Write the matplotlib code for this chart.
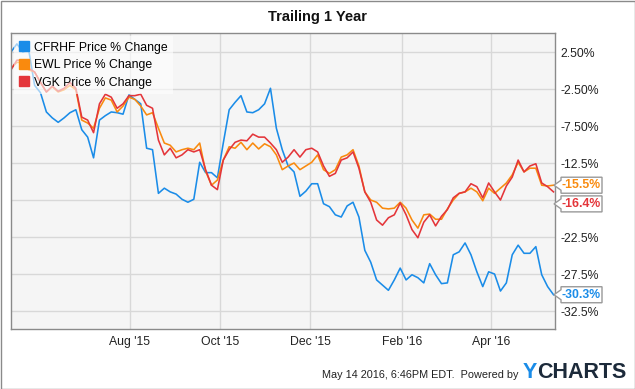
import matplotlib
matplotlib.use("Agg")
import matplotlib.pyplot as plt
import matplotlib.dates as mdates
import pandas as pd
from matplotlib.lines import Line2D
from matplotlib.patches import Polygon, Rectangle
from matplotlib.transforms import IdentityTransform

plt.rcParams['font.family'] = ['Liberation Sans', 'DejaVu Sans']

# sampling dates (one reading about every 4 days)
dates = pd.date_range('2015-05-13', '2016-05-13', periods=93)

cfrhf = [2.5, 3.6, 2.5, 2.8, -2.0, -3.0, -5.6, -6.4, -7.0, -6.4,
         -5.7, -5.3, -8.0, -9.0, -11.8, -6.7, -6.1, -5.6, -5.7, -5.9,
         -3.3, -3.9, -4.5, -10.5, -10.7, -16.6, -15.9, -16.4, -16.7, -17.4,
         -17.8, -17.4, -12.4, -13.8, -13.8, -14.5, -9.8, -5.3, -4.3, -3.4,
         -5.6, -5.7, -5.3, -4.5, -2.4, -7.8, -10.7, -12.9, -13.7, -17.0,
         -16.3, -15.3, -15.3, -18.0, -18.4, -19.5, -19.8, -18.3, -17.8, -19.8,
         -24.3, -25.9, -28.3, -29.0, -29.7, -28.3, -26.7, -28.3, -27.6, -28.0,
         -28.7, -26.1, -27.6, -28.8, -28.7, -24.9, -24.5, -23.3, -24.9, -27.2,
         -29.2, -27.2, -27.5, -29.8, -28.7, -24.9, -23.6, -24.7, -24.7, -23.8,
         -27.6, -29.2, -30.3]

ewl = [0.3, 1.1, 1.1, 0.1, -0.2, -1.6, -2.9, -2.2, -2.9, -2.6,
       -2.0, -2.6, -6.7, -7.1, -7.8, -5.1, -3.7, -4.0, -5.6, -4.8,
       -3.6, -3.9, -4.8, -6.0, -5.7, -7.8, -9.8, -10.1, -11.0, -10.7,
       -10.5, -10.7, -9.8, -13.6, -15.5, -14.8, -12.1, -10.3, -10.5, -9.7,
       -10.7, -9.8, -10.6, -9.9, -10.3, -11.4, -13.4, -12.9, -12.5, -13.4,
       -12.9, -12.4, -11.4, -13.4, -13.9, -13.4, -11.7, -11.4, -10.7, -12.9,
       -16.4, -17.5, -17.8, -18.6, -18.7, -18.6, -17.8, -18.6, -20.2, -21.3,
       -19.5, -19.4, -20.1, -20.1, -18.7, -17.5, -16.6, -16.4, -15.9, -16.4,
       -17.6, -15.9, -16.6, -15.9, -15.2, -14.1, -12.4, -13.7, -13.2, -13.2,
       -15.5, -15.6, -15.5]

vgk = [0.1, 1.4, 1.4, 0.3, -0.2, -1.6, -2.9, -2.1, -2.8, -2.4,
       -1.6, -2.4, -6.3, -6.7, -8.4, -4.5, -3.2, -3.6, -5.1, -4.5,
       -3.4, -3.4, -3.2, -4.7, -5.1, -9.4, -11.4, -10.5, -11.8, -11.4,
       -10.7, -11.0, -10.7, -13.4, -15.5, -16.1, -12.1, -10.7, -9.7, -9.4,
       -9.5, -8.6, -9.0, -9.0, -9.8, -10.7, -12.4, -11.7, -10.7, -11.7,
       -10.7, -10.5, -11.0, -12.9, -14.3, -13.9, -12.1, -11.8, -11.0, -13.2,
       -16.4, -17.8, -20.2, -20.9, -19.9, -19.5, -17.9, -19.5, -21.5, -22.6,
       -20.5, -19.5, -21.0, -19.7, -18.8, -17.2, -16.6, -16.4, -15.3, -15.7,
       -17.2, -15.2, -16.4, -17.5, -15.6, -14.4, -12.1, -13.7, -12.9, -12.6,
       -15.2, -15.7, -16.4]

names = ['CFRHF Price % Change', 'EWL Price % Change', 'VGK Price % Change']
colors = ['#1a8ce8', '#f98a0e', '#e4353a']

# -17.5% sits behind the end-value flags in the original, so its label is blank
y_ticks = [2.5, -2.5, -7.5, -12.5, -17.5, -22.5, -27.5, -32.5]
y_labels = ['2.50%', '-2.50%', '-7.50%', '-12.5%', '', '-22.5%', '-27.5%', '-32.5%']
x_ticks = ['2015-08-01', '2015-10-01', '2015-12-01', '2016-02-01', '2016-04-01']
x_labels = ["Aug '15", "Oct '15", "Dec '15", "Feb '16", "Apr '16"]

W, H = 635, 389
fig = plt.figure(figsize=(W / 100, H / 100), dpi=100)
ax = fig.add_axes([11 / W, 1 - 329 / H, 544 / W, 296 / H])
ax.set_facecolor('#f5f5f5')

for vals, col in zip([cfrhf, ewl, vgk], colors):
    ax.plot(dates, vals, color=col, lw=1.15, solid_joinstyle='round')

ax.set_xlim(pd.Timestamp('2015-05-13'), pd.Timestamp('2016-05-14'))
ax.set_ylim(-34.93, 5.07)
ax.set_yticks(y_ticks)
ax.set_yticklabels(y_labels)
ax.set_xticks(pd.to_datetime(x_ticks))
ax.set_xticklabels(x_labels)
ax.yaxis.tick_right()
ax.tick_params(length=0, labelsize=8.8, colors='#222222')
ax.tick_params(axis='y', pad=4)
ax.tick_params(axis='x', pad=5)
ax.grid(True, color='#d8d8d8', lw=1)
ax.set_axisbelow(True)
for s in ax.spines.values():
    s.set_color('#8a8a8a')
    s.set_linewidth(1)

handles = [Line2D([], [], marker='s', ls='none', color=c, markersize=7) for c in colors]
leg = ax.legend(handles, names, loc='upper left', bbox_to_anchor=(0.0, 1.0),
                fontsize=8.8, frameon=True, fancybox=False, framealpha=0.6,
                edgecolor='none', handlelength=0.8, handletextpad=0.35,
                labelspacing=0.45, borderpad=0.45, borderaxespad=0.25)
leg.get_frame().set_facecolor('white')

fig.text(0.5, 1 - 17 / H, 'Trailing 1 Year', ha='center', va='center',
         fontsize=10.5, fontweight='bold', color='#111111')

# end-value flags
last_vals = [cfrhf[-1], ewl[-1], vgk[-1]]
nudges = [0, 0, 12]
for v, col, nd in zip(last_vals, colors, nudges):
    px = ax.transAxes.transform((1, 0))[0]
    py = ax.transData.transform((0, v))[1] - nd
    verts = [(px - 1, py), (px + 6, py + 5), (px + 6, py + 8), (px + 47, py + 8),
             (px + 47, py - 8), (px + 6, py - 8), (px + 6, py - 5)]
    fig.patches.append(Polygon(verts, closed=True, transform=IdentityTransform(),
                               fc='white', ec='#999999', lw=1, zorder=5))
    fig.text(px + 26.5, py, '%.1f%%' % v, transform=IdentityTransform(),
             ha='center', va='center', fontsize=8.8, fontweight='bold',
             color=col, zorder=6)

fig.text(519 / W, 1 - 375 / H, 'May 14 2016, 6:46PM EDT.  Powered by',
         ha='right', va='center', fontsize=7.8, color='#222222')
ty = fig.text(523 / W, 1 - 373 / H, 'Y', ha='left', va='center',
              fontsize=15.5, fontweight='bold', color='#1a8ce8')
fig.canvas.draw()
bb = ty.get_window_extent()
fig.text(bb.x1 / W, 1 - 373 / H, 'CHARTS', ha='left', va='center',
         fontsize=15.5, fontweight='bold', color='#1c2a3a')

fig.patches.append(Rectangle((0.5 / W, 0.5 / H), 1 - 1 / W, 1 - 1 / H,
                             transform=fig.transFigure, fill=False,
                             ec='#8a8a8a', lw=1))

fig.savefig('out.png', dpi=100)
